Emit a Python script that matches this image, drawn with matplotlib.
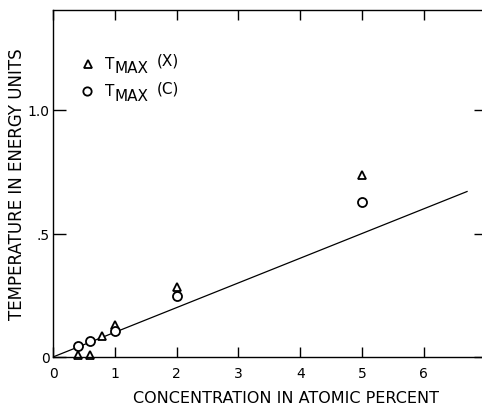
import matplotlib
matplotlib.use("Agg")
import matplotlib.pyplot as plt
import numpy as np

# Data
tri_x = [0.4, 0.6, 0.8, 1.0, 2.0, 5.0]
tri_y = [0.01, 0.01, 0.085, 0.13, 0.285, 0.735]
circ_x = [0.4, 0.6, 1.0, 2.0, 5.0]
circ_y = [0.045, 0.065, 0.105, 0.245, 0.626]
line_x = [0.0, 6.7]
line_slope = 0.1
xticks = [0, 1, 2, 3, 4, 5, 6]
xticklabels = ["0", "1", "2", "3", "4", "5", "6"]
yticks = [0, 0.5, 1.0]
yticklabels = ["0", ".5", "1.0"]

plt.rcParams['font.family'] = ['DejaVu Sans']

fig = plt.figure(figsize=(4.82, 4.06), dpi=100)
W, H = 482, 406
left, right, top, bottom = 53, 487, 11, 358
ax = fig.add_axes([left / W, 1 - bottom / H, (right - left) / W, (bottom - top) / H])

ax.set_xlim(0, (right - left) / 61.8)
ax.set_ylim(0, (bottom - top) / 247.0)

lx = np.array(line_x)
ax.plot(lx, line_slope * lx, color='black', lw=0.9)
ax.plot(tri_x, tri_y, linestyle='none', marker='^', ms=6, mfc='white',
        mec='black', mew=1.3, clip_on=False)
ax.plot(circ_x, circ_y, linestyle='none', marker='o', ms=6.5, mfc='white',
        mec='black', mew=1.3, clip_on=False)

for s in ax.spines.values():
    s.set_linewidth(1.0)

ax.set_xticks(xticks)
ax.set_xticklabels(xticklabels)
ax.set_yticks(yticks)
ax.set_yticklabels(yticklabels)
ax.tick_params(axis='x', direction='in', length=7.5, width=1.0, top=True,
               labelsize=10, pad=6.5)
ax.tick_params(axis='y', direction='in', length=9.5, width=1.0, right=True,
               labelsize=10, pad=2.5)

ax.set_xlabel("CONCENTRATION IN ATOMIC PERCENT", fontsize=11.5)
ax.xaxis.set_label_coords((286 - left) / (right - left), (bottom - 391) / (bottom - top))
ax.set_ylabel("TEMPERATURE IN ENERGY UNITS", fontsize=12)
ax.yaxis.set_label_coords((26 - left) / (right - left), 0.5)

def fx(px):
    return (px - left) / (right - left)

def fy(py):
    return (bottom - py) / (bottom - top)

# Legend (hand-built to reproduce the T_MAX lettering)
ax.plot([fx(87.5)], [fy(64.5)], transform=ax.transAxes, marker='^', ms=6,
        mfc='white', mec='black', mew=1.3, linestyle='none')
ax.plot([fx(87)], [fy(91.5)], transform=ax.transAxes, marker='o', ms=6,
        mfc='white', mec='black', mew=1.3, linestyle='none')
for (tb, mb, pb, ptxt) in [(69, 73, 66, "(X)"), (96, 101, 94, "(C)")]:
    ax.text(fx(105), fy(tb), "T", transform=ax.transAxes, fontsize=11,
            va='baseline', ha='left')
    ax.text(fx(114), fy(mb), "MAX", transform=ax.transAxes, fontsize=11,
            va='baseline', ha='left')
    ax.text(fx(157), fy(pb), ptxt, transform=ax.transAxes, fontsize=11,
            va='baseline', ha='left')

fig.savefig("out.png", dpi=100)
